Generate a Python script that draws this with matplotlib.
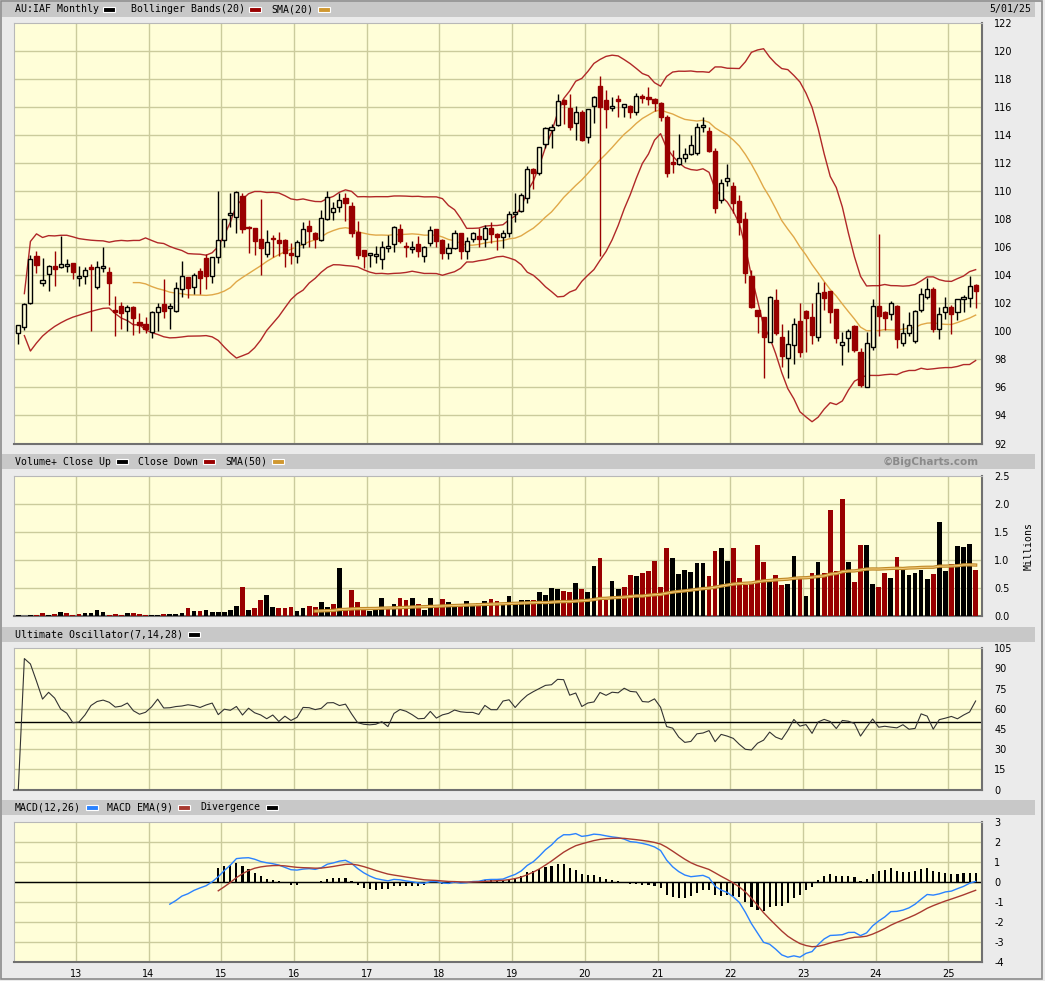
import numpy as np
import pandas as pd
import matplotlib
matplotlib.use("Agg")
import matplotlib.pyplot as plt
from matplotlib.patches import Rectangle

# monthly bars, Mar 2012 .. May 2025
months = pd.date_range("2012-03-01", "2025-05-01", freq="MS")

opens = [99.86, 100.29, 102.0, 105.38, 103.48, 104.07, 104.67, 104.62, 104.7, 104.86,
         103.79, 103.95, 104.57, 103.14, 104.5, 104.21, 101.5, 101.81, 101.48, 101.76,
         100.64, 100.52, 99.98, 101.36, 101.95, 101.64, 101.48, 103.0, 103.86, 103.14,
         104.31, 105.26, 103.95, 105.29, 106.52, 108.31, 108.19, 109.69, 107.43, 107.36,
         106.57, 105.5, 106.69, 106.52, 106.52, 105.62, 105.4, 106.21, 107.52, 107.05,
         106.52, 108.0, 108.55, 108.9, 109.5, 108.95, 107.07, 105.81, 105.45, 105.38,
         105.2, 105.98, 106.21, 107.29, 106.02, 105.86, 106.21, 105.4, 106.29, 107.29,
         106.52, 105.57, 105.98, 107.0, 105.74, 106.57, 106.83, 106.57, 107.36, 106.93,
         106.76, 107.0, 108.4, 108.6, 109.5, 111.6, 111.29, 113.38, 114.38, 114.74,
         116.52, 115.98, 114.86, 115.67, 113.86, 116.1, 117.52, 116.52, 115.93, 116.57,
         116.0, 116.1, 115.64, 116.81, 116.76, 116.62, 116.29, 115.33, 112.07, 111.95,
         112.36, 112.67, 112.76, 114.57, 114.31, 112.88, 109.38, 110.76, 110.38, 109.31,
         108.02, 103.95, 101.52, 101.0, 99.26, 102.24, 99.57, 98.07, 99.02, 100.74,
         101.45, 101.0, 99.62, 102.83, 102.88, 101.57, 99.02, 99.5, 100.4, 98.5,
         96.05, 98.9, 101.83, 101.4, 101.24, 101.81, 99.21, 99.86, 99.33, 101.52,
         102.43, 103.02, 100.19, 101.4, 101.71, 101.36, 102.29, 102.36, 103.31]
highs = [100.45, 102.0, 105.45, 105.74, 105.26, 104.75, 105.74, 106.83, 105.14, 104.9,
         104.67, 104.6, 104.8, 105.02, 106.0, 104.6, 102.52, 102.1, 101.9, 101.8,
         101.33, 101.0, 101.45, 102.0, 103.74, 102.0, 103.55, 105.02, 103.9, 104.2,
         104.5, 105.5, 105.3, 110.02, 108.0, 109.86, 110.0, 109.86, 107.5, 107.4,
         109.43, 107.24, 106.9, 107.1, 106.6, 106.33, 106.5, 107.83, 107.95, 107.1,
         108.67, 110.05, 109.26, 109.86, 109.86, 109.26, 107.86, 105.85, 105.55, 106.1,
         106.45, 106.9, 107.5, 107.67, 106.4, 106.45, 106.8, 106.1, 107.52, 107.3,
         106.6, 106.3, 107.24, 107.05, 106.76, 107.1, 107.4, 107.6, 107.8, 107.0,
         107.24, 108.62, 109.86, 109.9, 111.81, 111.65, 113.19, 114.62, 114.8, 116.95,
         116.6, 116.95, 116.1, 115.8, 115.9, 116.81, 118.24, 117.24, 116.71, 116.88,
         116.25, 116.15, 117.0, 116.95, 117.43, 116.7, 116.4, 115.45, 112.95, 114.07,
         113.12, 114.02, 114.86, 115.29, 114.62, 113.07, 110.86, 111.93, 110.64, 109.74,
         108.5, 104.38, 101.55, 101.05, 102.52, 103.02, 100.52, 100.1, 100.93, 102.0,
         101.5, 102.05, 103.5, 103.5, 102.9, 101.6, 99.93, 100.21, 100.45, 98.83,
         99.98, 102.29, 106.95, 101.45, 102.17, 101.9, 100.6, 101.36, 101.5, 103.07,
         103.83, 103.19, 101.76, 102.48, 101.88, 102.3, 102.6, 103.98, 103.38]
lows = [99.07, 100.1, 101.95, 104.14, 103.26, 102.9, 103.26, 104.5, 104.26, 103.71,
        103.26, 103.4, 100.0, 103.0, 104.26, 101.88, 99.69, 100.21, 100.0, 99.74,
        99.86, 99.86, 99.5, 100.0, 100.98, 100.2, 101.4, 102.48, 102.4, 102.67,
        102.67, 103.0, 103.43, 104.86, 106.05, 107.48, 107.0, 107.0, 105.57, 105.45,
        104.02, 105.33, 105.33, 105.38, 104.57, 104.79, 104.86, 105.93, 106.05, 105.98,
        106.45, 107.95, 107.95, 108.55, 107.9, 106.76, 105.14, 104.5, 104.6, 104.86,
        104.45, 105.7, 105.7, 106.33, 105.3, 105.57, 105.29, 104.98, 106.1, 106.0,
        105.14, 105.14, 105.86, 105.14, 105.2, 106.4, 106.05, 106.05, 106.33, 105.8,
        105.93, 106.76, 107.83, 108.55, 109.14, 110.14, 111.17, 113.07, 113.07, 114.67,
        114.81, 114.38, 113.64, 113.6, 113.48, 114.9, 105.38, 114.5, 115.76, 115.33,
        115.33, 115.26, 115.45, 116.29, 116.17, 115.76, 115.05, 111.05, 111.29, 111.88,
        112.07, 112.6, 112.6, 114.26, 112.83, 108.43, 109.19, 110.4, 108.43, 106.9,
        103.43, 101.7, 99.86, 96.71, 99.26, 99.74, 97.48, 96.71, 97.71, 98.14,
        98.55, 99.1, 99.33, 101.52, 100.62, 99.14, 97.64, 98.55, 98.5, 96.0,
        96.0, 98.67, 99.69, 100.1, 100.81, 98.79, 98.98, 99.69, 99.21, 101.4,
        102.29, 99.98, 99.43, 100.88, 99.79, 100.81, 101.4, 101.71, 101.64]
closes = [100.45, 101.95, 105.14, 104.74, 103.67, 104.69, 104.48, 104.79, 104.75, 104.21,
          103.95, 104.38, 104.43, 104.57, 104.67, 103.48, 101.4, 101.33, 101.71, 100.93,
          100.45, 100.17, 101.4, 101.71, 101.48, 101.81, 103.07, 103.95, 103.12, 104.02,
          103.83, 103.95, 105.29, 106.52, 108.0, 108.43, 109.93, 107.31, 107.35, 106.45,
          105.93, 106.36, 106.57, 106.29, 105.62, 105.43, 106.4, 107.29, 107.17, 106.6,
          108.07, 109.57, 108.79, 109.38, 109.19, 107.0, 105.45, 105.4, 105.5, 105.55,
          106.05, 106.0, 107.43, 106.48, 106.0, 106.05, 105.74, 106.05, 107.24, 106.48,
          105.57, 105.98, 107.0, 105.74, 106.48, 107.0, 106.57, 107.36, 106.93, 106.76,
          107.0, 108.36, 108.55, 109.74, 111.57, 111.29, 113.14, 114.5, 114.62, 116.45,
          116.21, 114.57, 115.64, 113.67, 115.86, 116.71, 116.0, 115.86, 116.12, 116.48,
          116.21, 115.69, 116.83, 116.69, 116.62, 116.29, 115.33, 111.29, 111.95, 112.36,
          112.64, 113.31, 114.57, 114.74, 112.9, 108.83, 110.57, 110.93, 109.19, 107.83,
          104.19, 101.71, 101.12, 99.57, 102.48, 99.86, 98.26, 99.07, 100.52, 98.5,
          100.98, 99.74, 102.71, 102.4, 101.4, 99.5, 99.26, 100.05, 98.67, 96.17,
          99.14, 101.83, 101.12, 100.98, 102.05, 99.43, 99.86, 100.45, 101.45, 102.64,
          103.0, 100.21, 101.21, 101.71, 101.21, 102.29, 102.43, 103.26, 102.9]
# volume, millions
volumes = [0.02, 0.01, 0.02, 0.02, 0.05, 0.02, 0.04, 0.07, 0.05, 0.02,
           0.04, 0.05, 0.05, 0.11, 0.07, 0.02, 0.04, 0.02, 0.05, 0.05,
           0.04, 0.02, 0.02, 0.02, 0.04, 0.04, 0.04, 0.05, 0.14, 0.09,
           0.09, 0.11, 0.07, 0.07, 0.07, 0.11, 0.18, 0.52, 0.12, 0.14,
           0.29, 0.37, 0.16, 0.14, 0.14, 0.16, 0.09, 0.14, 0.18, 0.16,
           0.25, 0.16, 0.21, 0.86, 0.14, 0.46, 0.25, 0.12, 0.09, 0.12,
           0.32, 0.14, 0.21, 0.32, 0.29, 0.32, 0.21, 0.12, 0.32, 0.20,
           0.30, 0.25, 0.18, 0.21, 0.27, 0.21, 0.23, 0.27, 0.30, 0.27,
           0.21, 0.36, 0.25,
           0.29, 0.29, 0.29, 0.43, 0.37, 0.50, 0.48, 0.45, 0.43, 0.59,
           0.48, 0.43, 0.89, 1.03, 0.29, 0.62, 0.48, 0.52, 0.73, 0.71,
           0.77, 0.80, 0.98, 0.52, 1.21, 1.03, 0.75, 0.82, 0.78, 0.94,
           0.94, 0.71, 1.16, 1.21, 0.98, 1.21, 0.68, 0.55, 0.57, 1.26,
           0.96, 0.62, 0.73, 0.55, 0.57, 1.07, 0.66, 0.36, 0.77, 0.96,
           0.77, 1.89, 0.80, 2.08, 0.96, 0.61, 1.26, 1.26, 0.57, 0.52,
           0.77, 0.68, 1.05, 0.82, 0.73, 0.77, 0.82, 0.66, 0.75, 1.67,
           0.80, 0.93, 1.25, 1.23, 1.28, 0.82]

W, H = 1045, 981
BG = "#EBEBEB"
BAR = "#C8C8C8"
PANEL = "#FFFED8"
GRID = "#CBCB9C"
RED = "#990000"
BAND = "#B02828"
GOLD = "#E0A848"
MONO = "DejaVu Sans Mono"

n = len(closes)
x = np.arange(n)
o, h, l, c = (np.array(v) for v in (opens, highs, lows, closes))
cl = pd.Series(c)

# indicators
mid = cl.rolling(20, min_periods=1).mean()
sd = cl.rolling(20, min_periods=1).std(ddof=0)
upper, lower = mid + 2 * sd, mid - 2 * sd
sma20 = cl.rolling(20).mean()
vol_sma = pd.Series(volumes).rolling(50).mean()

prev = cl.shift(1)
bp = cl - np.minimum(pd.Series(l), prev)
tr = np.maximum(pd.Series(h), prev) - np.minimum(pd.Series(l), prev)
def avg(p):
    return bp.rolling(p, min_periods=1).sum() / tr.rolling(p, min_periods=1).sum()
uo = (100 * (4 * avg(7) + 2 * avg(14) + avg(28)) / 7).fillna(0)

def ema(s, span):
    # EMA seeded with the simple average of the first `span` values
    s = s.dropna()
    seed = pd.Series([s.iloc[:span].mean()], index=[s.index[span - 1]])
    return pd.concat([seed, s.iloc[span:]]).ewm(span=span, adjust=False).mean()

macd = (ema(cl, 12) - ema(cl, 26)).dropna()
signal = ema(macd, 9)
hist = (macd - signal).dropna()

jan = [i for i, m in enumerate(months) if m.month == 1]
year_lines = [j - 0.5 for j in jan]
year_labels = [f"{months[j].year % 100:02d}" for j in jan]

fig = plt.figure(figsize=(W / 100, H / 100), dpi=100, facecolor=BG)

def fbox(x0, y0, x1, y1):
    return [x0 / W, 1 - y1 / H, (x1 - x0) / W, (y1 - y0) / H]

def header(y0, y1, items):
    fig.add_artist(Rectangle((1.7 / W, 1 - y1 / H), (1035 - 1.7) / W, (y1 - y0) / H,
                             transform=fig.transFigure, color=BAR, lw=0))
    yc = 1 - (y0 + y1) / 2 / H
    for tx, s, sw, col in items:
        fig.text(tx / W, yc, s, fontsize=7.1, family=MONO, va="center", ha="left")
        if col:
            fig.add_artist(Rectangle((sw / W, yc - 2.5 / H), 12 / W, 5 / H,
                                     transform=fig.transFigure, facecolor=col,
                                     edgecolor="white", lw=0.8))

def style(ax, ylim, ticks, labels, grid_y):
    ax.set_facecolor(PANEL)
    ax.set_xlim(-0.66, 159.0)
    ax.set_ylim(*ylim)
    ax.yaxis.tick_right()
    ax.set_yticks(ticks)
    ax.set_yticklabels(labels, family="DejaVu Sans", fontsize=7)
    ax.tick_params(axis="y", length=0, pad=9)
    ax.set_xticks([])
    for g in grid_y:
        ax.axhline(g, color=GRID, lw=1.0, zorder=0)
    for g in year_lines:
        ax.axvline(g, color=GRID, lw=1.0, zorder=0)
    for s in ("top", "left"):
        ax.spines[s].set_color("#B8B8B8")
        ax.spines[s].set_linewidth(0.8)
    for s in ("bottom", "right"):
        ax.spines[s].set_color("#707070")
        ax.spines[s].set_linewidth(1.5)

ax_p = fig.add_axes(fbox(14.3, 23.3, 981.7, 443.5))
ax_v = fig.add_axes(fbox(14.3, 475.7, 981.7, 616.3))
ax_u = fig.add_axes(fbox(14.3, 648.3, 981.7, 789.5))
ax_m = fig.add_axes(fbox(14.3, 821.7, 981.7, 962.0))

# price panel
pt = list(range(92, 123, 2))
style(ax_p, (92, 122), pt, [str(t) for t in pt], pt[1:-1])
ax_p.plot(x[1:], upper[1:], color=BAND, lw=1.0, zorder=2)
ax_p.plot(x[1:], lower[1:], color=BAND, lw=1.0, zorder=2)
ax_p.plot(x, sma20, color=GOLD, lw=1.0, zorder=2)
up = c >= o
ax_p.vlines(x, l, h, colors=np.where(up, "black", RED), lw=1.0, zorder=3)
body = np.maximum(np.abs(c - o), 0.12)
bot = np.minimum(o, c)
ax_p.bar(x[up], body[up], bottom=bot[up], width=0.68, color=PANEL,
         edgecolor="black", lw=1.0, zorder=4)
ax_p.bar(x[~up], body[~up], bottom=bot[~up], width=0.68, color=RED,
         edgecolor=RED, lw=1.0, zorder=4)

# volume panel
vt = [0.0, 0.5, 1.0, 1.5, 2.0, 2.5]
style(ax_v, (0, 2.5), vt, [f"{t:.1f}" for t in vt], vt[1:-1])
rising = np.r_[True, c[1:] >= c[:-1]]
ax_v.bar(x, volumes, width=0.78, color=np.where(rising, "black", RED), zorder=3)
ax_v.plot(x, vol_sma, color="#C08A28", lw=2.4, zorder=4)
ax_v.plot(x, vol_sma, color="#F0C878", lw=0.8, zorder=5)
ax_v.text(1.048, 0.5, "Millions", transform=ax_v.transAxes, rotation=90,
          va="center", ha="center", fontsize=7.1, family=MONO)

# ultimate oscillator
ut = list(range(0, 106, 15))
style(ax_u, (0, 105), ut, [str(t) for t in ut], ut[1:-1])
ax_u.axhline(50, color="black", lw=1.0, zorder=2)
ax_u.plot(x, uo, color="#333333", lw=0.8, zorder=3)

# MACD
mt = list(range(-4, 4))
style(ax_m, (-4, 3), mt, [str(t) for t in mt], mt[1:-1])
ax_m.axhline(0, color="black", lw=1.0, zorder=2)
ax_m.bar(hist.index, hist.values, width=0.35, color="black", zorder=3)
ax_m.plot(macd.index, macd.values, color="#2A82FF", lw=1.0, zorder=4)
ax_m.plot(signal.index, signal.values, color="#A83A30", lw=1.0, zorder=4)
ax_m.set_xticks(year_lines)
ax_m.set_xticklabels(year_labels, family="DejaVu Sans", fontsize=7)
ax_m.tick_params(axis="x", length=0, pad=5)

# header bars
header(1.7, 16.7, [(15, "AU:IAF Monthly", 103, "black"),
                   (130.7, "Bollinger Bands(20)", 249, RED),
                   (271.7, "SMA(20)", 318, "#D09830")])
fig.text(1031.7 / W, 1 - 9.3 / H, "5/01/25", fontsize=7.1, family=MONO,
         va="center", ha="right")
header(454, 469, [(15, "Volume+ Close Up", 115.7, "black"),
                  (137.7, "Close Down", 203, RED),
                  (225, "SMA(50)", 271.7, "#D09830")])
fig.text(979 / W, 1 - 461.5 / H, "\u00a9BigCharts.com", fontsize=7.5,
         fontweight="bold", color="#8A8A8A", va="center", ha="right")
header(627, 642, [(15, "Ultimate Oscillator(7,14,28)", 187.7, "black")])
header(800, 815, [(15, "MACD(12,26)", 85.7, "#2A82FF"),
                  (107.3, "MACD EMA(9)", 178.3, "#A83A30"),
                  (200.7, "Divergence", 265.7, "black")])

fig.add_artist(Rectangle((0.6 / W, 1 - 978.5 / H), 1041 / W, 977.5 / H,
                         transform=fig.transFigure, fill=False,
                         edgecolor="#8C8C8C", lw=1.2))

fig.savefig("out.png", dpi=100, facecolor=BG)
